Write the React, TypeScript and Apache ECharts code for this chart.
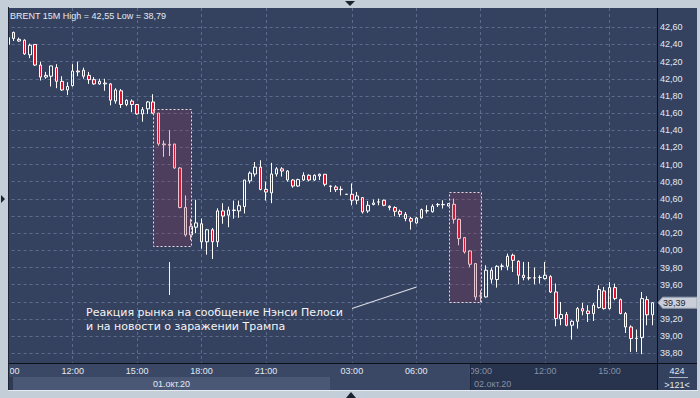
import React, { useEffect, useRef } from "react";
import * as echarts from "echarts";

// ---- data ----
const sessions = [
  { date: "2020-10-01", start: "09:00", bars: 56 },
  { date: "2020-10-02", start: "01:00", bars: 65 },
];

function buildCategories(): string[] {
  const out: string[] = [];
  for (const s of sessions) {
    const [h, m] = s.start.split(":").map(Number);
    let t = h * 60 + m;
    for (let i = 0; i < s.bars; i++) {
      const hh = String(Math.floor(t / 60)).padStart(2, "0");
      const mm = String(t % 60).padStart(2, "0");
      out.push(`${s.date} ${hh}:${mm}`);
      t += 15;
    }
  }
  return out;
}
const categories = buildCategories();

const opens = [
  42.40, 42.54, 42.44, 42.45, 42.28, 42.40, 42.16, 42.02, 42.03, 42.13,
  41.97, 41.87, 41.92, 42.09, 42.10, 42.04, 41.99, 41.94, 41.94, 41.94,
  41.74, 41.86, 41.70, 41.74, 41.70, 41.59, 41.65, 41.73, 41.60, 41.24,
  41.235, 41.24, 40.96, 40.50, 40.18, 40.27, 40.31, 40.10, 40.24, 40.10,
  40.46, 40.41, 40.465, 40.46, 40.51, 40.81, 40.89, 40.97, 40.71, 40.67,
  40.89, 40.95, 40.925, 40.82, 40.75, 40.82, 40.875, 40.82, 40.867, 40.887,
  40.745, 40.739, 40.708, 40.655, 40.654, 40.584, 40.615, 40.459, 40.534, 40.563,
  40.584, 40.514, 40.499, 40.455, 40.42, 40.37, 40.319, 40.377, 40.46, 40.45,
  40.532, 40.532, 40.517, 40.537, 40.362, 40.149, 39.993, 39.846, 39.466, 39.457,
  39.768, 39.66, 39.814, 39.814, 39.943, 39.873, 39.71, 39.68, 39.678, 39.683,
  39.671, 39.694, 39.515, 39.205, 39.252, 39.127, 39.173, 39.321, 39.293, 39.263,
  39.333, 39.527, 39.321, 39.566, 39.426, 39.263, 39.107, 38.972, 38.983, 39.426,
  39.249,
];
const closes = [
  42.48, 42.47, 42.46, 42.29, 42.39, 42.16, 42.02, 42.04, 42.15, 41.97,
  41.87, 41.91, 42.09, 42.08, 42.03, 41.99, 41.94, 41.97, 41.95, 41.75,
  41.87, 41.70, 41.75, 41.70, 41.59, 41.64, 41.73, 41.60, 41.24, 41.23,
  41.225, 40.96, 40.50, 40.18, 40.28, 40.32, 40.10, 40.24, 40.10, 40.46,
  40.40, 40.47, 40.47, 40.52, 40.82, 40.90, 40.97, 40.71, 40.68, 40.89,
  40.95, 40.925, 40.82, 40.75, 40.825, 40.875, 40.82, 40.875, 40.887, 40.77,
  40.75, 40.708, 40.712, 40.652, 40.584, 40.634, 40.447, 40.525, 40.552, 40.565,
  40.525, 40.499, 40.455, 40.42, 40.37, 40.339, 40.377, 40.475, 40.462, 40.514,
  40.534, 40.535, 40.545, 40.362, 40.137, 39.981, 39.838, 39.457, 39.47, 39.768,
  39.663, 39.814, 39.818, 39.931, 39.884, 39.71, 39.683, 39.678, 39.68, 39.685,
  39.71, 39.515, 39.205, 39.252, 39.127, 39.173, 39.321, 39.293, 39.263, 39.36,
  39.543, 39.321, 39.566, 39.438, 39.263, 39.107, 38.972, 38.975, 39.438, 39.249,
  39.39,
];
const lows = [
  42.38, 42.44, 42.43, 42.28, 42.24, 42.15, 41.98, 42.00, 41.91, 41.89,
  41.86, 41.81, 41.91, 42.03, 42.00, 41.94, 41.93, 41.93, 41.86, 41.69,
  41.71, 41.66, 41.68, 41.61, 41.58, 41.50, 41.59, 41.59, 41.22, 41.09,
  41.10, 40.95, 40.49, 40.16, 40.12, 40.20, 40.02, 39.95, 39.90, 40.04,
  40.31, 40.27, 40.37, 40.38, 40.43, 40.78, 40.86, 40.70, 40.58, 40.55,
  40.86, 40.86, 40.80, 40.73, 40.74, 40.81, 40.805, 40.81, 40.82, 40.747,
  40.68, 40.68, 40.64, 40.65, 40.525, 40.537, 40.429, 40.436, 40.525, 40.525,
  40.514, 40.467, 40.397, 40.389, 40.339, 40.242, 40.312, 40.37, 40.429, 40.44,
  40.505, 40.487, 40.514, 40.312, 40.059, 39.962, 39.806, 39.418, 39.398, 39.45,
  39.613, 39.566, 39.768, 39.768, 39.748, 39.605, 39.651, 39.651, 39.605, 39.613,
  39.66, 39.503, 39.115, 39.127, 39.115, 38.96, 39.088, 39.243, 39.165, 39.177,
  39.321, 39.31, 39.31, 39.418, 39.255, 39.037, 38.816, 38.816, 38.79, 39.127,
  39.127,
];
const highs = [
  42.50, 42.55, 42.48, 42.46, 42.41, 42.40, 42.20, 42.08, 42.15, 42.17,
  42.03, 41.96, 42.17, 42.20, 42.13, 42.08, 42.02, 42.00, 42.00, 41.95,
  41.89, 41.88, 41.76, 41.76, 41.70, 41.67, 41.74, 41.82, 41.60, 41.28,
  41.40, 41.24, 40.97, 40.64, 40.37, 40.59, 40.37, 40.25, 40.26, 40.49,
  40.55, 40.51, 40.58, 40.58, 40.82, 40.92, 41.03, 41.05, 40.80, 41.02,
  40.97, 40.97, 40.935, 40.83, 40.835, 40.91, 40.886, 40.886, 40.895, 40.89,
  40.758, 40.758, 40.747, 40.657, 40.78, 40.68, 40.622, 40.575, 40.592, 40.603,
  40.592, 40.525, 40.514, 40.475, 40.447, 40.389, 40.389, 40.487, 40.525, 40.537,
  40.552, 40.584, 40.552, 40.603, 40.37, 40.156, 40.001, 39.846, 39.535, 39.826,
  39.799, 39.826, 39.846, 39.962, 39.962, 39.884, 39.865, 39.865, 39.799, 39.71,
  39.865, 39.71, 39.613, 39.398, 39.282, 39.185, 39.34, 39.387, 39.36, 39.387,
  39.593, 39.573, 39.631, 39.613, 39.438, 39.282, 39.127, 39.077, 39.515, 39.465,
  39.398,
];

const yTicks = [
  38.8, 39.0, 39.2, 39.4, 39.6, 39.8, 40.0, 40.2, 40.4, 40.6,
  40.8, 41.0, 41.2, 41.4, 41.6, 41.8, 42.0, 42.2, 42.4, 42.6,
];
const dateLabels = ["01.окт.20", "02.окт.20"];
const symbolName = "BRENT 15M";
const totalBars = 424;
const dimFrom = "2020-10-02 09:00";
const highlightBoxes = [
  { from: 27, to: 34, top: 41.652, bottom: 40.05 },
  { from: 82, to: 88, top: 40.676, bottom: 39.393 },
];
const annotationLines = [
  "Реакция рынка на сообщение Нэнси Пелоси",
  "и на новости о заражении Трампа",
];

// ---- styles ----
const plotBg = "#34425f";
const frameColor = "#c4ced9";
const bright = "#e4e9f2";
const dim = "#8791a6";
const gridLine = "#5b6c8f";
const font = "'Liberation Sans', Arial, sans-serif";

const fmt = (v: number) => v.toFixed(2).replace(".", ",");
const isMajor = (c: string) => {
  const t = c.slice(11);
  const h = Number(t.slice(0, 2));
  return t.slice(3) === "00" && h % 3 === 0;
};

export default function App() {
  const ref = useRef<HTMLDivElement>(null);
  useEffect(() => {
    const chart = echarts.init(ref.current!, null, { renderer: "svg", width: 700, height: 398 });
    const lastClose = closes[closes.length - 1];
    // the last-price tag hides the tick label beneath it
    const yLabelValues = yTicks.filter((v) => Math.abs(v - lastClose) > 0.08);
    chart.setOption({
      animation: false,
      backgroundColor: plotBg,
      grid: { left: 5.6, right: 44.8, top: 8, bottom: 35, containLabel: false, outerBoundsMode: "none" },
      xAxis: {
        type: "category",
        data: categories,
        boundaryGap: true,
        z: 5,
        axisLine: { show: true, lineStyle: { color: "#0b0f18", width: 1 } },
        axisTick: { show: false, alignWithLabel: true },
        axisLabel: {
          interval: (i: number) => isMajor(categories[i]),
          formatter: (v: string) => v.slice(11),
          color: (v: string) => (v >= dimFrom ? dim : bright),
          fontSize: 9,
          fontFamily: font,
          margin: 3,
        },
        splitLine: {
          show: true,
          interval: (i: number) => isMajor(categories[i]),
          alignWithLabel: true,
          lineStyle: { color: gridLine, type: [3, 3], width: 1 },
        },
      },
      yAxis: {
        type: "value",
        position: "right",
        offset: 1.8,
        min: 38.687,
        max: 42.825,
        z: 5,
        axisLine: { show: true, lineStyle: { color: "#0b0f18", width: 1 } },
        axisTick: { show: false, customValues: yTicks },
        axisLabel: {
          customValues: yLabelValues,
          formatter: (v: number) => fmt(v),
          color: bright,
          fontSize: 9,
          fontFamily: font,
          margin: 3,
        },
        splitLine: { show: true, lineStyle: { color: gridLine, type: [3, 3], width: 1 } },
      },
      series: [
        {
          type: "candlestick",
          data: categories.map((_, i) => [opens[i], closes[i], lows[i], highs[i]]),
          barWidth: 3,
          z: 6,
          itemStyle: {
            color: "transparent",
            color0: "#e3122c",
            borderColor: "#ffffff",
            borderColor0: "#ffffff",
            borderWidth: 1,
          },
        },
      ],
    });

    const px = (i: number, v: number) => chart.convertToPixel({ gridIndex: 0 }, [i, v]) as number[];
    const hi = Math.max(...highs);
    const lo = Math.min(...lows);
    const lastY = px(categories.length - 1, lastClose)[1];

    const g: any[] = [];
    // panels
    g.push({ type: "rect", z: 1, silent: true, shape: { x: 9, y: 363, width: 648, height: 27 }, style: { fill: "#3a4865" } });
    g.push({ type: "rect", z: 1, silent: true, shape: { x: 13, y: 377, width: 317, height: 13 }, style: { fill: "#4a5876" } });
    g.push({ type: "rect", z: 1, silent: true, shape: { x: 9, y: 377, width: 4, height: 13 }, style: { fill: "#2f3b56" } });
    g.push({ type: "rect", z: 1, silent: true, shape: { x: 470, y: 363, width: 187, height: 27 }, style: { fill: "#28334d" } });
    g.push({ type: "rect", z: 1, silent: true, shape: { x: 657, y: 363, width: 40, height: 27 }, style: { fill: "#34425f" } });

    // highlight boxes
    highlightBoxes.forEach((b) => {
      const p1 = px(b.from, b.top);
      const p2 = px(b.to, b.bottom);
      g.push({
        type: "rect", z: 8, silent: true,
        shape: { x: Math.round(p1[0]) + 0.5, y: Math.round(p1[1]) + 0.5, width: Math.round(p2[0] - p1[0]), height: Math.round(p2[1] - p1[1]) },
        style: { fill: "rgba(150,50,90,0.27)", stroke: "#e9dbe3", lineWidth: 1, lineDash: [2, 2] },
      });
    });

    // separator lines
    g.push({ type: "line", z: 10, silent: true, shape: { x1: 657.5, y1: 8, x2: 657.5, y2: 390 }, style: { stroke: "#0b0f18", lineWidth: 1 } });
    g.push({ type: "line", z: 10, silent: true, shape: { x1: 9, y1: 363.5, x2: 697, y2: 363.5 }, style: { stroke: "#0b0f18", lineWidth: 1 } });
    g.push({ type: "line", z: 10, silent: true, shape: { x1: 470.5, y1: 364, x2: 470.5, y2: 390 }, style: { stroke: "#1e2740", lineWidth: 1 } });

    // annotation
    g.push({ type: "line", z: 9, silent: true, shape: { x1: 169.5, y1: 262, x2: 169.5, y2: 295 }, style: { stroke: "#f2f2f2", lineWidth: 1 } });
    g.push({ type: "line", z: 9, silent: true, shape: { x1: 352, y1: 308.5, x2: 416.5, y2: 287 }, style: { stroke: "#d8dce4", lineWidth: 1.2 } });
    annotationLines.forEach((t, k) => {
      g.push({
        type: "text", z: 9, silent: true, x: 86, y: 312 + k * 14,
        style: { text: t, fill: "#f4f4f4", fontSize: 11, fontFamily: "'DejaVu Sans', sans-serif", align: "left", verticalAlign: "middle" },
      });
    });

    // title
    g.push({
      type: "text", z: 10, silent: true, x: 10, y: 15.5,
      style: { text: `${symbolName} High = ${fmt(hi)} Low = ${fmt(lo)}`, fill: bright, fontSize: 9, fontFamily: font, align: "left", verticalAlign: "middle" },
    });
    // date labels
    g.push({ type: "text", z: 10, silent: true, x: 171.5, y: 383.5, style: { text: dateLabels[0], fill: bright, fontSize: 9, fontFamily: font, align: "center", verticalAlign: "middle" } });
    g.push({ type: "text", z: 10, silent: true, x: 474, y: 383.5, style: { text: dateLabels[1], fill: dim, fontSize: 9, fontFamily: font, align: "left", verticalAlign: "middle" } });
    // bar counters
    g.push({ type: "text", z: 10, silent: true, x: 677, y: 371, style: { text: String(totalBars), fill: bright, fontSize: 9, fontFamily: font, align: "center", verticalAlign: "middle" } });
    g.push({ type: "line", z: 10, silent: true, shape: { x1: 669, y1: 377.5, x2: 688, y2: 377.5 }, style: { stroke: "#aab4c4", lineWidth: 1 } });
    g.push({ type: "text", z: 10, silent: true, x: 677, y: 384.5, style: { text: `>${categories.length}<`, fill: bright, fontSize: 9, fontFamily: font, align: "center", verticalAlign: "middle" } });

    // price tag
    g.push({
      type: "polygon", z: 20, silent: true,
      shape: { points: [[658, lastY], [662.5, lastY - 5.5], [697, lastY - 5.5], [697, lastY + 5.5], [662.5, lastY + 5.5]] },
      style: { fill: "#c9ced8", stroke: "#9aa2b2", lineWidth: 1 },
    });
    g.push({ type: "text", z: 21, silent: true, x: 663, y: lastY, style: { text: fmt(lastClose), fill: "#1c2434", fontSize: 9, fontFamily: font, align: "left", verticalAlign: "middle" } });

    // outer frame
    g.push({ type: "rect", z: 99, silent: true, shape: { x: 8, y: 364, width: 2, height: 13 }, style: { fill: "#3a4865" } });
    g.push({ type: "rect", z: 100, silent: true, shape: { x: 0, y: 0, width: 700, height: 8 }, style: { fill: frameColor } });
    g.push({ type: "rect", z: 100, silent: true, shape: { x: 0, y: 390, width: 700, height: 8 }, style: { fill: frameColor } });
    g.push({ type: "rect", z: 100, silent: true, shape: { x: 0, y: 0, width: 8, height: 398 }, style: { fill: frameColor } });
    g.push({ type: "rect", z: 100, silent: true, shape: { x: 697, y: 0, width: 3, height: 398 }, style: { fill: frameColor } });
    g.push({ type: "rect", z: 101, silent: true, shape: { x: 8, y: 7, width: 1, height: 384 }, style: { fill: "#1d2434" } });
    g.push({ type: "rect", z: 101, silent: true, shape: { x: 8, y: 390, width: 690, height: 1 }, style: { fill: "#e6ebf1" } });
    // arrows
    g.push({ type: "polygon", z: 102, silent: true, shape: { points: [[345, 1], [355, 1], [350, 6]] }, style: { fill: "#1c2230" } });
    g.push({ type: "polygon", z: 102, silent: true, shape: { points: [[346, 398], [356, 398], [351, 392]] }, style: { fill: "#1c2230" } });
    g.push({ type: "polygon", z: 102, silent: true, shape: { points: [[1, 195], [1, 203], [5, 199]] }, style: { fill: "#1c2230" } });

    chart.setOption({ graphic: g });
    return () => chart.dispose();
  }, []);
  return <div ref={ref} style={{ position: "fixed", left: 0, top: 0, width: 700, height: 398 }} />;
}
